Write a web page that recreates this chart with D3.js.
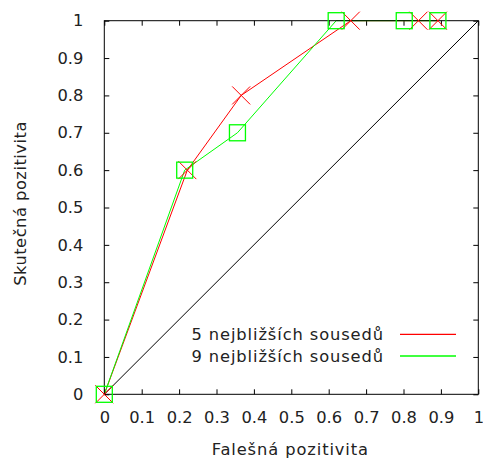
<!DOCTYPE html>
<html><head><meta charset="utf-8">
<script src="https://cdn.jsdelivr.net/npm/d3@7"></script>
<style>
body{margin:0;background:#fff;}
svg{display:block;font-family:"DejaVu Sans",sans-serif;}
</style></head>
<body>
<script>
const tickValues = [0,0.1,0.2,0.3,0.4,0.5,0.6,0.7,0.8,0.9,1];
const tickLabels = ["0","0.1","0.2","0.3","0.4","0.5","0.6","0.7","0.8","0.9","1"];
const seriesNames = ["5 nejbližších sousedů","9 nejbližších sousedů"];
const knn5_fp = [0,0.222,0.366,0.659,0.84,0.892];
const knn5_tp = [0,0.6,0.8,1,1,1];
const knn9_fp = [0,0.215,0.356,0.62,0.802,0.892];
const knn9_tp = [0,0.6,0.7,1,1,1];
const diagonal = [[0,0],[1,1]];
const xTitle = "Falešná pozitivita";
const yTitle = "Skutečná pozitivita";

const W=483,H=459;
const L=104.3,R=478.3,T=20.7,B=394.3;
const svg=d3.select("body").append("svg").attr("width",W).attr("height",H);
const x=d3.scaleLinear().domain([0,1]).range([L,R]);
const y=d3.scaleLinear().domain([0,1]).range([B,T]);
const fmt=(d,i)=>tickLabels[i];

function styleAxis(g){
  g.select(".domain").remove();
  g.selectAll(".tick line").attr("stroke","#000").attr("stroke-width",1);
  g.selectAll("text").attr("fill","#222").style("font-size","16.3px").style("font-family","DejaVu Sans, sans-serif");
}
svg.append("g").attr("transform",`translate(0,${B})`)
  .call(d3.axisBottom(x).tickValues(tickValues).tickFormat(fmt).tickSize(-5).tickPadding(17)).call(styleAxis);
svg.append("g").attr("transform",`translate(${L},0)`)
  .call(d3.axisLeft(y).tickValues(tickValues).tickFormat(fmt).tickSize(-5).tickPadding(21)).call(styleAxis);
svg.append("g").attr("transform",`translate(0,${T})`)
  .call(d3.axisTop(x).tickValues(tickValues).tickFormat("").tickSize(-5)).call(styleAxis);
svg.append("g").attr("transform",`translate(${R},0)`)
  .call(d3.axisRight(y).tickValues(tickValues).tickFormat("").tickSize(-5)).call(styleAxis);

const line=d3.line().x(d=>x(d[0])).y(d=>y(d[1]));
svg.append("path").attr("d",line(diagonal)).attr("fill","none").attr("stroke","#000").attr("stroke-width",1);

const s5=knn5_fp.map((v,i)=>[v,knn5_tp[i]]);
const s9=knn9_fp.map((v,i)=>[v,knn9_tp[i]]);
svg.append("path").attr("d",line(s5)).attr("fill","none").attr("stroke","#ff0000").attr("stroke-width",1);
svg.append("path").attr("d",line(s9)).attr("fill","none").attr("stroke","#00ff00").attr("stroke-width",1);

// border
svg.append("rect").attr("x",L).attr("y",T).attr("width",R-L).attr("height",B-T)
  .attr("fill","none").attr("stroke","#000").attr("stroke-width",1);

// markers
const c=9;
svg.append("g").selectAll("path").data(s5).join("path")
  .attr("d",d=>{const px=x(d[0]),py=y(d[1]);return `M${px-c},${py-c}L${px+c},${py+c}M${px-c},${py+c}L${px+c},${py-c}`;})
  .attr("stroke","#ff0000").attr("stroke-width",1).attr("fill","none");
const s=8;
svg.append("g").selectAll("rect").data(s9).join("rect")
  .attr("x",d=>x(d[0])-s).attr("y",d=>y(d[1])-s).attr("width",2*s).attr("height",2*s)
  .attr("stroke","#00ff00").attr("stroke-width",1.3).attr("fill","none");

// legend
const legColors=["#ff0000","#00ff00"];
const legY=[334.3,356];
seriesNames.forEach((n,i)=>{
  svg.append("text").attr("x",384).attr("y",legY[i]).attr("dy","0.36em").attr("text-anchor","end")
    .style("font-size","16.3px").style("letter-spacing","0.9px").attr("fill","#222").text(n);
  svg.append("line").attr("x1",400).attr("x2",456).attr("y1",legY[i]).attr("y2",legY[i])
    .attr("stroke",legColors[i]).attr("stroke-width",1.3);
});

// titles
svg.append("text").attr("x",(L+R)/2-1).attr("y",455).attr("text-anchor","middle")
  .style("font-size","16.3px").style("letter-spacing","0.9px").attr("fill","#222").text(xTitle);
svg.append("text").attr("transform",`translate(26,${(T+B)/2-4}) rotate(-90)`).attr("text-anchor","middle")
  .style("font-size","16.3px").style("letter-spacing","0.5px").attr("fill","#222").text(yTitle);
</script>
</body></html>
